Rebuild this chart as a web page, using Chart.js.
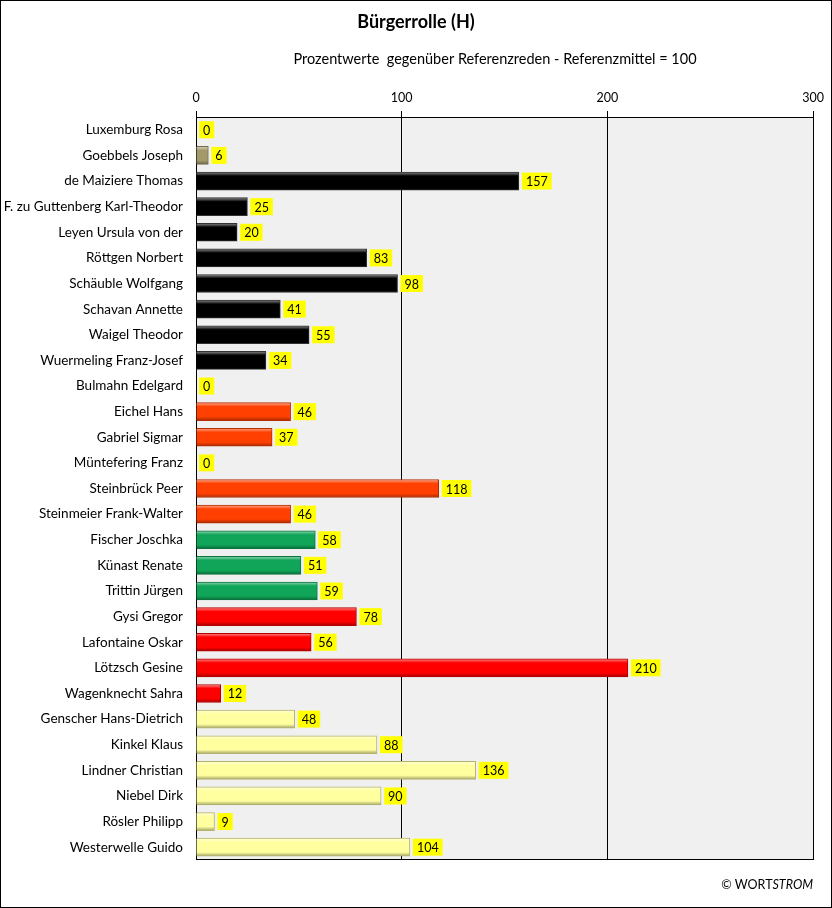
<!DOCTYPE html>
<html>
<head>
<meta charset="utf-8">
<script src="https://cdn.jsdelivr.net/npm/chart.js@4/dist/chart.umd.min.js"></script>
<style>
  body { margin: 0; background: #fff; }
  canvas { display: block; }
</style>
</head>
<body>
<canvas id="myChart" width="832" height="908"></canvas>
<script>
const categories = [
    'Luxemburg Rosa', 'Goebbels Joseph', 'de Maiziere Thomas', 'F. zu Guttenberg Karl-Theodor',
    'Leyen Ursula von der', 'Röttgen Norbert', 'Schäuble Wolfgang', 'Schavan Annette',
    'Waigel Theodor', 'Wuermeling Franz-Josef', 'Bulmahn Edelgard', 'Eichel Hans',
    'Gabriel Sigmar', 'Müntefering Franz', 'Steinbrück Peer', 'Steinmeier Frank-Walter',
    'Fischer Joschka', 'Künast Renate', 'Trittin Jürgen', 'Gysi Gregor',
    'Lafontaine Oskar', 'Lötzsch Gesine', 'Wagenknecht Sahra', 'Genscher Hans-Dietrich',
    'Kinkel Klaus', 'Lindner Christian', 'Niebel Dirk', 'Rösler Philipp', 'Westerwelle Guido'
];
const values = [0, 6, 157, 25, 20, 83, 98, 41, 55, 34, 0, 46, 37, 0, 118, 46, 58, 51, 59, 78, 56, 210, 12, 48, 88, 136, 90, 9, 104];
const groups = [
    'KPD', 'NSDAP', 'CDU', 'CDU', 'CDU', 'CDU', 'CDU', 'CDU', 'CDU', 'CDU',
    'SPD', 'SPD', 'SPD', 'SPD', 'SPD', 'SPD',
    'GRUENE', 'GRUENE', 'GRUENE',
    'LINKE', 'LINKE', 'LINKE', 'LINKE',
    'FDP', 'FDP', 'FDP', 'FDP', 'FDP', 'FDP'
];
const xTicks = [0, 100, 200, 300];
const titleText = 'Bürgerrolle (H)';
const subtitleText = 'Prozentwerte  gegenüber Referenzreden - Referenzmittel = 100';

const groupColors = {
    KPD: '#ff0000',
    NSDAP: '#a39a6c',
    CDU: '#000000',
    SPD: '#ff4000',
    GRUENE: '#10a558',
    LINKE: '#ff0000',
    FDP: '#ffffa0'
};

function shade(hex, amt) {
    let r = parseInt(hex.slice(1, 3), 16), g = parseInt(hex.slice(3, 5), 16), b = parseInt(hex.slice(5, 7), 16);
    const t = amt > 0 ? 255 : 0, p = Math.abs(amt);
    r = Math.round(r + (t - r) * p); g = Math.round(g + (t - g) * p); b = Math.round(b + (t - b) * p);
    return 'rgb(' + r + ',' + g + ',' + b + ')';
}

const FONT = "Lato, 'Noto Sans', sans-serif";

const frame = {
    id: 'frame',
    beforeDraw(chart) {
        const { ctx, chartArea: a } = chart;
        ctx.save();
        ctx.fillStyle = '#f0f0f0';
        ctx.fillRect(a.left, a.top, a.right - a.left, a.bottom - a.top);
        ctx.restore();
    },
    afterDatasetsDraw(chart) {
        const { ctx, chartArea: a } = chart;
        const meta = chart.getDatasetMeta(0);
        ctx.save();
        ctx.font = '12.5px ' + FONT;
        ctx.textBaseline = 'middle';
        ctx.textAlign = 'center';
        meta.data.forEach((bar, i) => {
            const txt = String(values[i]);
            const w = ctx.measureText(txt).width + 8;
            const x = bar.x + 3;
            ctx.fillStyle = '#ffff00';
            ctx.fillRect(x, bar.y - 8.5, w, 17);
            ctx.fillStyle = '#000';
            ctx.fillText(txt, x + w / 2, bar.y + 1);
        });
        // bottom edge of the plot area
        ctx.strokeStyle = '#000';
        ctx.lineWidth = 1;
        ctx.beginPath();
        ctx.moveTo(a.left, Math.round(a.bottom) - 0.5);
        ctx.lineTo(a.right + 1, Math.round(a.bottom) - 0.5);
        ctx.stroke();
        ctx.restore();
    },
    afterDraw(chart) {
        const { ctx, width, height, chartArea: a } = chart;
        ctx.save();
        ctx.fillStyle = '#000';
        ctx.textBaseline = 'middle';
        ctx.textAlign = 'center';
        ctx.font = 'bold 18px ' + FONT;
        ctx.fillText(titleText, 416, 22);
        ctx.font = '14.5px ' + FONT;
        ctx.fillText(subtitleText, 495, 59);

        ctx.textBaseline = 'alphabetic';
        ctx.textAlign = 'right';
        ctx.font = 'italic 12.5px ' + FONT;
        const italicPart = 'STROM';
        ctx.fillText(italicPart, a.right, 889);
        const iw = ctx.measureText(italicPart).width;
        ctx.font = '12.5px ' + FONT;
        ctx.fillText('© WORT', a.right - iw, 889);

        ctx.strokeStyle = '#000';
        ctx.lineWidth = 1;
        ctx.strokeRect(0.5, 0.5, width - 1, height - 1);
        ctx.restore();
    }
};

const ctx = document.getElementById('myChart');

new Chart(ctx, {
    type: 'bar',
    data: {
        labels: categories,
        datasets: [{
            data: values,
            barThickness: 18,
            borderWidth: 1,
            borderSkipped: 'left',
            backgroundColor: function (c) {
                const base = groupColors[groups[c.dataIndex]];
                const chart = c.chart;
                if (!chart.chartArea || !chart.scales.y) return base;
                const y = chart.scales.y.getPixelForValue(c.dataIndex);
                const g = chart.ctx.createLinearGradient(0, y - 9, 0, y + 9);
                g.addColorStop(0, shade(base, 0.55));
                g.addColorStop(0.22, base);
                g.addColorStop(0.78, base);
                g.addColorStop(1, shade(base, -0.35));
                return g;
            },
            borderColor: function (c) {
                const base = groupColors[groups[c.dataIndex]];
                return base === '#000000' ? '#333333' : shade(base, -0.3);
            }
        }]
    },
    options: {
        indexAxis: 'y',
        responsive: false,
        animation: false,
        layout: {
            padding: { left: 0, right: 19, top: 87, bottom: 48 }
        },
        scales: {
            x: {
                position: 'top',
                min: 0,
                max: 300,
                afterBuildTicks: (scale) => { scale.ticks = xTicks.map(v => ({ value: v })); },
                afterFit: (scale) => { scale.height = 30; },
                ticks: {
                    color: '#000',
                    padding: 6,
                    font: { family: FONT, size: 12.5 }
                },
                grid: {
                    color: '#000',
                    tickLength: 6,
                    drawTicks: true
                },
                border: { color: '#000' }
            },
            y: {
                afterFit: (scale) => { scale.width = 196; },
                ticks: {
                    color: '#000',
                    padding: 13,
                    autoSkip: false,
                    font: { family: FONT, size: 13.5 }
                },
                grid: { display: false, drawTicks: false },
                border: { display: false }
            }
        },
        plugins: {
            legend: { display: false },
            tooltip: { enabled: false },
            title: { display: false },
            subtitle: { display: false }
        }
    },
    plugins: [frame]
});
</script>
</body>
</html>
